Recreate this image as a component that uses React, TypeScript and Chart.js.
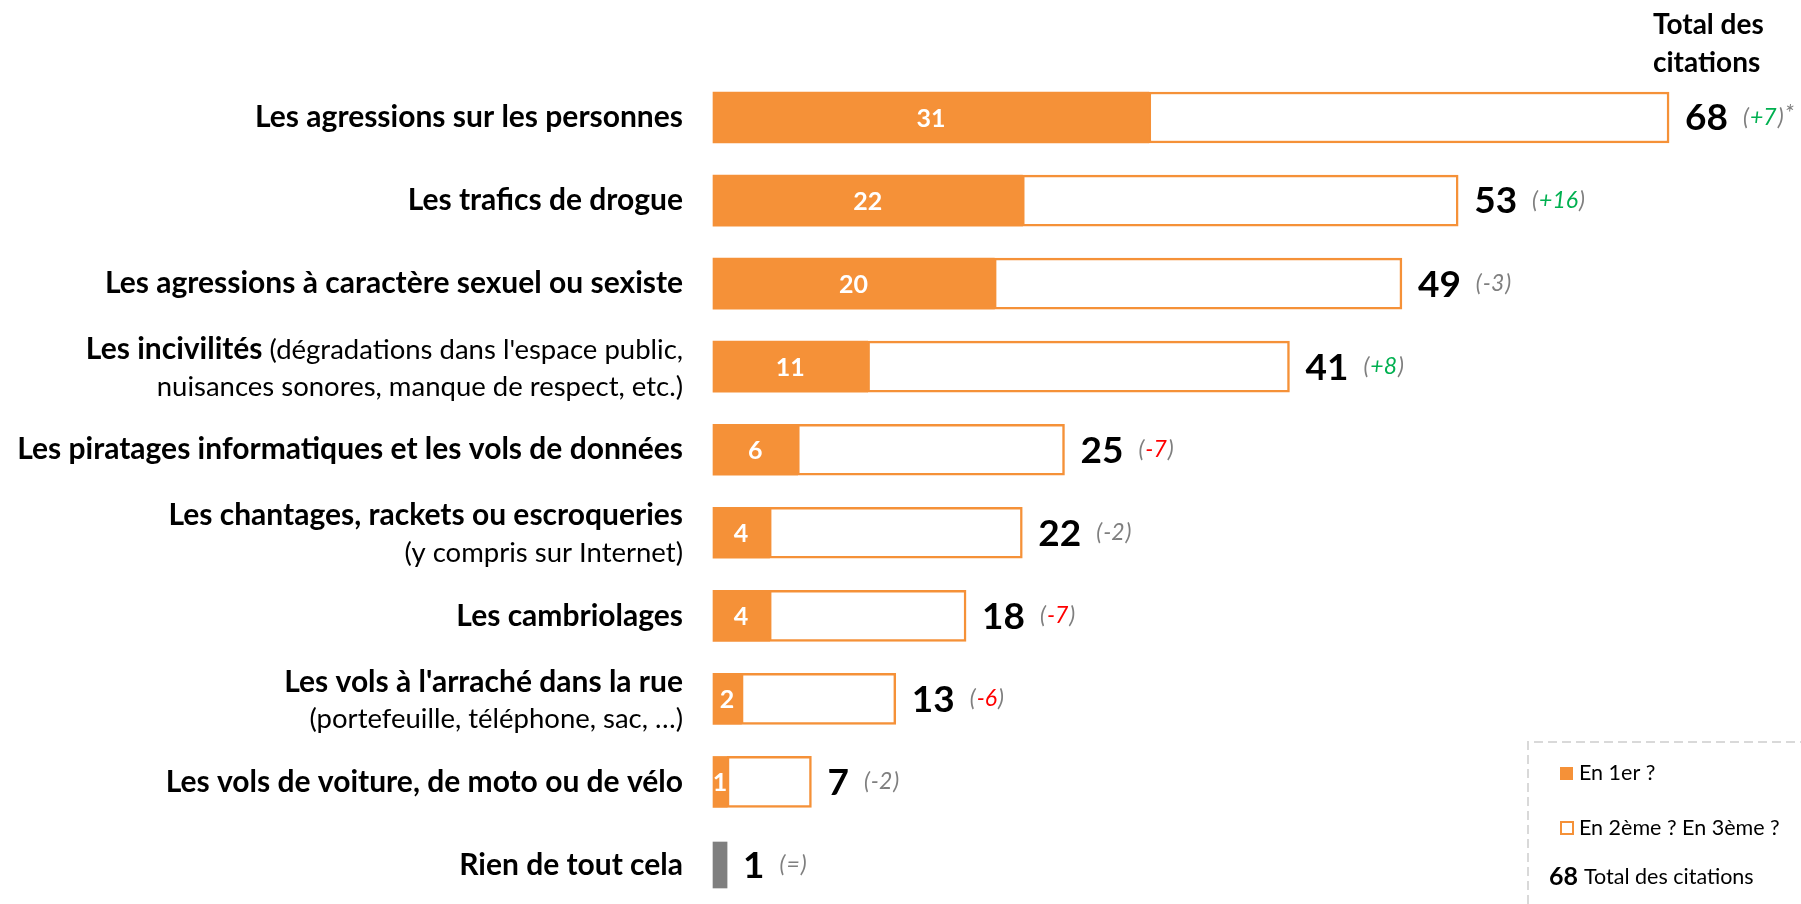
import React, { useEffect, useRef } from "react";
import { Chart, registerables } from "chart.js";

Chart.register(...registerables);

// ---- Data ----
const categoryLines: string[][] = [
  ["**Les agressions sur les personnes**"],
  ["**Les trafics de drogue**"],
  ["**Les agressions à caractère sexuel ou sexiste**"],
  ["**Les incivilités** (dégradations dans l'espace public,", "nuisances sonores, manque de respect, etc.)"],
  ["**Les piratages informatiques et les vols de données**"],
  ["**Les chantages, rackets ou escroqueries**", "(y compris sur Internet)"],
  ["**Les cambriolages**"],
  ["**Les vols à l'arraché dans la rue**", "(portefeuille, téléphone, sac, …)"],
  ["**Les vols de voiture, de moto ou de vélo**"],
  ["**Rien de tout cela**"],
];
const categories = categoryLines.map((l) => l.join(" ").replace(/\*\*/g, ""));
const firstRank = [31, 22, 20, 11, 6, 4, 4, 2, 1, 0];
const totalCitations = [68, 53, 49, 41, 25, 22, 18, 13, 7, 1];
const noneIndex = 9;
const evolutions = ["+7", "+16", "-3", "+8", "-7", "-2", "-7", "-6", "-2", "="];
const evolutionTones = ["up", "up", "ns", "up", "down", "ns", "down", "down", "ns", "ns"];
const evolutionNotes = ["*", "", "", "", "", "", "", "", "", ""];
const seriesLabels = ["En 1er ?", "En 2ème ? En 3ème ?"];
const totalLegendLabel = "Total des citations";
const headerLines = ["Total des", "citations"];

// ---- Styles ----
const ORANGE = "#F59138";
const GREY = "#7F7F7F";
const FONT = "Lato, 'Open Sans', sans-serif";
const BOLD_SIZE = 30;
const REG_SIZE = 27.5;
const toneColor: Record<string, string> = { up: "#00B050", down: "#FF0000", ns: "#7F7F7F" };

function drawRich(ctx: CanvasRenderingContext2D, line: string, right: number, y: number) {
  const parts = line.split("**").map((t, i) => ({ text: t, bold: i % 2 === 1 })).filter((p) => p.text.length);
  const fontOf = (b: boolean) => (b ? `bold ${BOLD_SIZE}px ${FONT}` : `${REG_SIZE}px ${FONT}`);
  let total = 0;
  const widths = parts.map((p) => {
    ctx.font = fontOf(p.bold);
    const w = ctx.measureText(p.text).width;
    total += w;
    return w;
  });
  let x = right - total;
  ctx.textAlign = "left";
  ctx.fillStyle = "#000000";
  parts.forEach((p, i) => {
    ctx.font = fontOf(p.bold);
    ctx.fillText(p.text, x, y);
    x += widths[i];
  });
}

const overlayPlugin = {
  id: "overlay",
  afterDatasetsDraw(chart: any) {
    const { ctx } = chart;
    const xs = chart.scales.x;
    const ys = chart.scales.y;
    const x0 = xs.getPixelForValue(0);
    ctx.save();
    ctx.textBaseline = "middle";

    categoryLines.forEach((lines, i) => {
      const cy = ys.getPixelForValue(i);
      const offsets = lines.length === 1 ? [0] : [-17, 20];
      lines.forEach((line, k) => drawRich(ctx, line, x0 - 30, cy + offsets[k]));

      const first = firstRank[i];
      if (i !== noneIndex && first > 0) {
        ctx.font = `bold 25px ${FONT}`;
        ctx.fillStyle = "#FFFFFF";
        ctx.textAlign = "center";
        ctx.fillText(String(first), (x0 + xs.getPixelForValue(first)) / 2, cy + 1);
      }

      const tStr = String(totalCitations[i]);
      const tx = xs.getPixelForValue(totalCitations[i]) + 16;
      ctx.font = `bold 37px ${FONT}`;
      ctx.fillStyle = "#000000";
      ctx.textAlign = "left";
      ctx.fillText(tStr, tx, cy + 1);
      let dx = tx + ctx.measureText(tStr).width + 15;

      ctx.font = `italic 23px ${FONT}`;
      const pieces = [
        { t: "(", c: GREY },
        { t: evolutions[i], c: toneColor[evolutionTones[i]] },
        { t: ")", c: GREY },
      ];
      pieces.forEach((p) => {
        ctx.fillStyle = p.c;
        ctx.fillText(p.t, dx, cy);
        dx += ctx.measureText(p.t).width + 1;
      });
      if (evolutionNotes[i]) {
        ctx.fillStyle = GREY;
        ctx.font = `italic 24px ${FONT}`;
        ctx.fillText(evolutionNotes[i], dx, cy - 4);
      }
    });

    // header
    ctx.font = `bold 28px ${FONT}`;
    ctx.fillStyle = "#000000";
    ctx.textAlign = "left";
    const hx = chart.width - 148;
    ctx.fillText(headerLines[0], hx, 25);
    ctx.fillText(headerLines[1], hx, 63);

    // legend box
    const lx = chart.width - 273;
    const ly = 742;
    ctx.strokeStyle = "#D9D9D9";
    ctx.lineWidth = 2;
    ctx.setLineDash([9, 5]);
    ctx.beginPath();
    ctx.moveTo(lx, chart.height);
    ctx.lineTo(lx, ly);
    ctx.lineTo(chart.width, ly);
    ctx.stroke();
    ctx.setLineDash([]);

    ctx.fillStyle = ORANGE;
    ctx.fillRect(lx + 32, ly + 25, 13, 13);
    ctx.strokeStyle = ORANGE;
    ctx.lineWidth = 2;
    ctx.strokeRect(lx + 33, ly + 80, 12, 12);

    ctx.font = `21.5px ${FONT}`;
    ctx.fillStyle = "#000000";
    ctx.fillText(chart.data.datasets[0].label, lx + 51, ly + 31);
    ctx.fillText(chart.data.datasets[1].label, lx + 51, ly + 86);

    ctx.font = `bold 25px ${FONT}`;
    const ex = String(totalCitations[0]);
    ctx.fillText(ex, lx + 21, ly + 135);
    const ew = ctx.measureText(ex).width;
    ctx.font = `21.5px ${FONT}`;
    ctx.fillText(totalLegendLabel, lx + 21 + ew + 6, ly + 135);

    ctx.restore();
  },
};

export default function App() {
  const ref = useRef<HTMLCanvasElement>(null);
  useEffect(() => {
    document.body.style.margin = "0";
    const firstData = firstRank.map((v, i) => (i === noneIndex ? null : v));
    const restData = totalCitations.map((v, i) => (i === noneIndex ? null : v - firstRank[i]));
    const noneData = totalCitations.map((v, i) => (i === noneIndex ? v : null));
    const chart = new Chart(ref.current as HTMLCanvasElement, {
      type: "bar",
      data: {
        labels: categories,
        datasets: [
          { label: seriesLabels[0], data: firstData, backgroundColor: ORANGE, borderWidth: 0, barThickness: 51, clip: false } as any,
          {
            label: seriesLabels[1],
            data: restData,
            backgroundColor: "#FFFFFF",
            borderColor: ORANGE,
            borderWidth: 2.5,
            borderSkipped: false,
            barThickness: 51,
            clip: false,
          } as any,
          { label: categories[noneIndex], data: noneData, backgroundColor: GREY, borderWidth: 0, barThickness: 46, clip: false } as any,
        ],
      },
      options: {
        animation: false,
        responsive: false,
        indexAxis: "y",
        layout: { padding: { left: 713, right: 33.5, top: 117.5, bottom: 39 } },
        scales: {
          x: { stacked: true, min: 0, max: 75, display: false },
          y: { stacked: true, display: false, offset: false },
        },
        plugins: { legend: { display: false }, tooltip: { enabled: false } },
      },
      plugins: [overlayPlugin],
    });
    return () => chart.destroy();
  }, []);
  return (
    <div style={{ width: 1801, height: 904, background: "#FFFFFF" }}>
      <canvas ref={ref} width={1801} height={904} style={{ display: "block" }} />
    </div>
  );
}
